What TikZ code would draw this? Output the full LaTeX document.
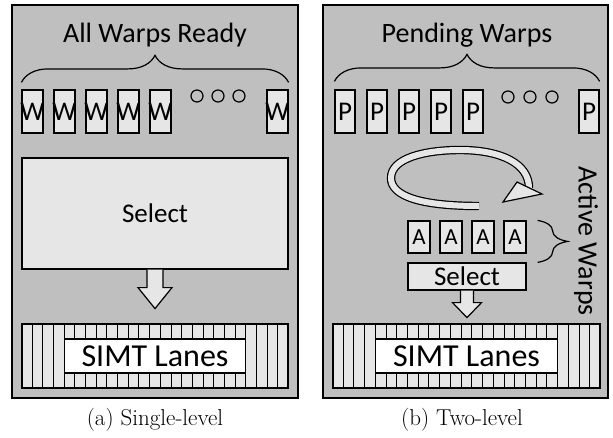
\documentclass[tikz,border=0pt]{standalone}
\usepackage{fontspec}
\newfontfamily\labelfont{Carlito}
\usetikzlibrary{calc,decorations.pathreplacing}
\definecolor{PanelGray}{RGB}{191,191,191}
\definecolor{BoxGray}{RGB}{230,230,230}

\begin{document}
\begin{tikzpicture}[x=1pt,y=-1pt]

  \tikzstyle{Panel} = [rectangle, draw=black, line width=1.5pt, fill=PanelGray, inner sep=0pt, minimum height=393pt]
  \tikzstyle{WarpBox} = [rectangle, draw=black, line width=1.2pt, fill=BoxGray, inner sep=0pt, minimum height=43pt, font=\labelfont\fontsize{27}{30}\selectfont]
  \tikzstyle{ActiveBox} = [WarpBox, minimum width=22pt, minimum height=32pt, font=\labelfont\fontsize{23}{26}\selectfont]
  \tikzstyle{SelectBlock} = [rectangle, draw=black, line width=1.2pt, fill=BoxGray, inner sep=0pt, font=\labelfont\fontsize{27}{30}\selectfont]
  \tikzstyle{LaneBlock} = [rectangle, draw=black, line width=1.2pt, fill=BoxGray, inner sep=0pt, minimum height=64pt]
  \tikzstyle{LaneLabel} = [rectangle, draw=black, line width=1.2pt, fill=white, inner sep=0pt, minimum height=34pt, font=\labelfont\fontsize{32}{34}\selectfont]
  \tikzstyle{Title} = [font=\labelfont\fontsize{28}{30}\selectfont]
  \tikzstyle{Dot} = [circle, draw=black, line width=1.2pt, minimum size=12pt, inner sep=0pt]
  \tikzstyle{Brace} = [decorate, decoration={brace, amplitude=27pt}, line width=1.2pt]
  \tikzstyle{BlockArrow} = [draw=black, line width=1.2pt, fill=BoxGray, line join=miter]
  \tikzstyle{LoopBand} = [draw=black, line width=1.2pt, double=BoxGray, double distance=6pt]
  \tikzstyle{Stripe} = [line width=1pt]
  \tikzstyle{Caption} = [font=\fontsize{23}{28}\selectfont]

  \useasboundingbox (0,0) rectangle (613,437);

  % panels
  \node (PanelA) [Panel, minimum width=286pt] at (155,201.5) {};
  \node (PanelB) [Panel, minimum width=285pt] at (465.5,201.5) {};

  % (a) single-level
  \node (TitleA) [Title] at (155,35) {All Warps Ready};
  \foreach \i in {1,...,5}
    \node (W\i) [WarpBox, minimum width=21pt] at (32.5+32*\i-32,111.5) {\makebox[0pt]{W}};
  \node (WLast) [WarpBox, minimum width=21pt] at (277.5,111.5) {\makebox[0pt]{W}};
  \foreach \i/\x in {1/197,2/218,3/239}
    \node (DotA\i) [Dot] at (\x,96) {};
  \draw [Brace] ([yshift=7pt]W1.north west) -- ([yshift=7pt]WLast.north east);

  \node (SelectA) [SelectBlock, minimum width=266pt, minimum height=111pt] at (155,213.5) {Select};
  \draw [BlockArrow] ([xshift=-8pt]SelectA.south) -- ++(0,18) -- ++(-9,0) -- ++(17,21) -- ++(17,-21) -- ++(-9,0) -- ++(0,-18);

  \node (SimtA) [LaneBlock, minimum width=266pt] at (155,356) {};
  \foreach \k in {1,...,24}
    \draw [Stripe] ($(SimtA.north west)!\k/25!(SimtA.north east)$) -- ($(SimtA.south west)!\k/25!(SimtA.south east)$);
  \node (LanesA) [LaneLabel, minimum width=180.8pt] at (SimtA.center) {SIMT Lanes};

  \node (CaptionA) [Caption] at (155,420) {(a) Single-level};

  % (b) two-level
  \node (TitleB) [Title] at (467,35) {Pending Warps};
  \foreach \i in {1,...,5}
    \node (P\i) [WarpBox, minimum width=20pt] at (345+32*\i-32,111.5) {P};
  \node (PLast) [WarpBox, minimum width=20pt] at (589,111.5) {P};
  \foreach \i/\x in {1/508,2/530,3/552}
    \node (DotB\i) [Dot] at (\x,97) {};
  \draw [Brace] ([yshift=8pt]P1.north west) -- ([yshift=8pt]PLast.north east);

  \draw [LoopBand] (479,206) .. controls (420,206) and (391,196) .. (391,178)
    .. controls (391,158) and (425,150) .. (460,150)
    .. controls (502,150) and (529,164) .. (529,188);
  \filldraw [BlockArrow] (503,202) -- (542,194) -- (517,182) -- cycle;

  \foreach \i in {1,...,4}
    \node (A\i) [ActiveBox] at (419+32*\i-32,237) {A};
  \node (SelectB) [SelectBlock, minimum width=118pt, minimum height=27pt] at (467,276.5) {Select};
  \draw [Brace, decoration={amplitude=30pt}] ([xshift=11pt]A4.north east) -- ([xshift=11pt]SelectB.north east);
  \node (ActiveLabel) [Title, rotate=-90] at (586,241) {Active Warps};
  \draw [BlockArrow] ([xshift=-6.5pt]SelectB.south) -- ++(0,12) -- ++(-8,0) -- ++(14.5,15) -- ++(14.5,-15) -- ++(-8,0) -- ++(0,-12);

  \node (SimtB) [LaneBlock, minimum width=267pt] at (466.5,356) {};
  \foreach \k in {1,...,24}
    \draw [Stripe] ($(SimtB.north west)!\k/25!(SimtB.north east)$) -- ($(SimtB.south west)!\k/25!(SimtB.south east)$);
  \node (LanesB) [LaneLabel, minimum width=181.6pt] at (SimtB.center) {SIMT Lanes};

  \node (CaptionB) [Caption] at (462,420) {(b) Two-level};

\end{tikzpicture}
\end{document}
